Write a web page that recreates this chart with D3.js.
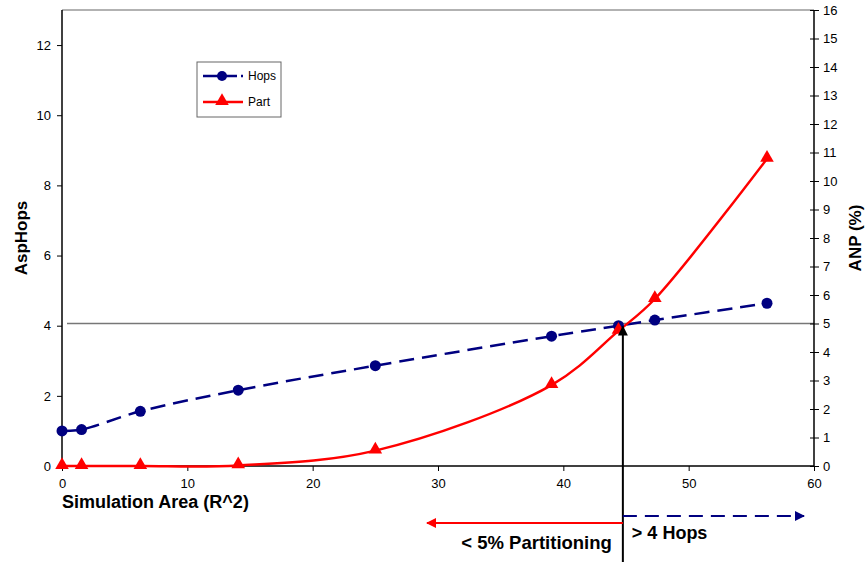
<!DOCTYPE html>
<html>
<head>
<meta charset="utf-8">
<script src="https://cdn.jsdelivr.net/npm/d3@7"></script>
<style>
body { margin: 0; background: #fff; }
text { font-family: "Liberation Sans", Arial, sans-serif; }
</style>
</head>
<body>
<div class="chart"></div>
<script>
// simulation area (R^2)
var area = [0, 1.56, 6.25, 14.06, 25, 39.06, 44.4, 47.3, 56.25];
// average shortest path hops (left axis)
var hops = [1.0, 1.04, 1.56, 2.16, 2.86, 3.70, 4.0, 4.16, 4.64];
// average network partitioning % (right axis)
var part = [0, 0, 0, 0.02, 0.54, 2.84, 4.74, 5.86, 10.78];
var xTicks = [0, 10, 20, 30, 40, 50, 60];
var leftTicks = [0, 2, 4, 6, 8, 10, 12];
var rightTicks = d3.range(0, 17);
var threshold = 5;      // % partitioning line
var crossArea = 44.75;  // where both limits meet

var W = 867, H = 562;
var margin = {top: 10, right: 53, bottom: 96, left: 62};
var width = W - margin.left - margin.right,
    height = H - margin.top - margin.bottom;

var svg = d3.select(".chart").append("svg")
    .attr("width", W)
    .attr("height", H);
var g = svg.append("g")
    .attr("transform", "translate(" + margin.left + "," + margin.top + ")");

var x = d3.scaleLinear().domain([0, 60]).range([0, width]);
var yL = d3.scaleLinear().domain([0, 13]).range([height, 0]);
var yR = d3.scaleLinear().domain([0, 16]).range([height, 0]);

// top frame
g.append("line")
    .attr("x1", 0).attr("x2", width).attr("y1", 0).attr("y2", 0)
    .attr("stroke", "#999").attr("stroke-width", 1.5);

// 5% line
g.append("line")
    .attr("x1", 5).attr("x2", width)
    .attr("y1", yR(threshold)).attr("y2", yR(threshold))
    .attr("stroke", "#777").attr("stroke-width", 1.5);

// axes
var xAxis = g.append("g")
    .attr("transform", "translate(0," + height + ")")
    .call(d3.axisBottom(x).tickValues(xTicks).tickSize(5).tickPadding(8));
var lAxis = g.append("g")
    .call(d3.axisLeft(yL).tickValues(leftTicks).tickSize(5).tickPadding(6));
var rAxis = g.append("g")
    .attr("transform", "translate(" + width + ",0)")
    .call(d3.axisRight(yR).tickValues(rightTicks).tickSize(5).tickPadding(4));
rAxis.selectAll(".tick line").attr("x1", -4);
[xAxis, lAxis, rAxis].forEach(function (a) {
    a.select(".domain").attr("stroke", "#000").attr("stroke-width", 1.5);
    a.selectAll(".tick line").attr("stroke", "#000");
    a.selectAll(".tick text")
        .style("font-family", "Liberation Sans, Arial, sans-serif")
        .style("font-size", "13px").attr("fill", "#000");
});
lAxis.select(".domain").attr("d", "M0," + height + "V0");
rAxis.select(".domain").attr("d", "M0," + height + "V0");
xAxis.select(".domain").attr("d", "M0,0H" + width);

var pts = area.map(function (a, i) { return {x: a, h: hops[i], p: part[i]}; });

// hops line
var hopLine = d3.line()
    .x(function (d) { return x(d.x); })
    .y(function (d) { return yL(d.h); })
    .curve(d3.curveCatmullRom.alpha(0.5));
g.append("path")
    .datum(pts)
    .attr("d", hopLine)
    .attr("fill", "none")
    .attr("stroke", "#000080")
    .attr("stroke-width", 2.5)
    .attr("stroke-dasharray", "15,8");

// part line
var partLine = d3.line()
    .x(function (d) { return x(d.x); })
    .y(function (d) { return yR(d.p); })
    .curve(d3.curveCatmullRom.alpha(0.5));
g.append("path")
    .datum(pts)
    .attr("d", partLine)
    .attr("fill", "none")
    .attr("stroke", "#ff0000")
    .attr("stroke-width", 2.5);

g.selectAll(".hop")
    .data(pts)
    .enter().append("circle")
    .attr("class", "hop")
    .attr("cx", function (d) { return x(d.x); })
    .attr("cy", function (d) { return yL(d.h); })
    .attr("r", 5.5)
    .attr("fill", "#000080");

var tri = d3.symbol().type(d3.symbolTriangle).size(80);
g.selectAll(".part")
    .data(pts)
    .enter().append("path")
    .attr("class", "part")
    .attr("d", tri)
    .attr("transform", function (d) { return "translate(" + x(d.x) + "," + (yR(d.p) - 1) + ")"; })
    .attr("fill", "#ff0000");

// legend
var leg = svg.append("g").attr("transform", "translate(197,62)");
leg.append("rect")
    .attr("width", 84).attr("height", 55)
    .attr("fill", "#fff").attr("stroke", "#666").attr("stroke-width", 1);
leg.append("line").attr("x1", 6).attr("x2", 46).attr("y1", 14).attr("y2", 14)
    .attr("stroke", "#000080").attr("stroke-width", 2.5).attr("stroke-dasharray", "15,4");
leg.append("circle").attr("cx", 25).attr("cy", 14).attr("r", 5).attr("fill", "#000080");
leg.append("text").attr("x", 51).attr("y", 18).text("Hops")
    .style("font-size", "12px");
leg.append("line").attr("x1", 6).attr("x2", 46).attr("y1", 40).attr("y2", 40)
    .attr("stroke", "#ff0000").attr("stroke-width", 2.5);
leg.append("path").attr("d", tri).attr("transform", "translate(25,39)").attr("fill", "#ff0000");
leg.append("text").attr("x", 51).attr("y", 44).text("Part")
    .style("font-size", "12px");

// axis titles
svg.append("text")
    .attr("transform", "translate(27,238) rotate(-90)")
    .attr("text-anchor", "middle")
    .style("font-size", "17px").style("font-weight", "bold")
    .text("AspHops");
svg.append("text")
    .attr("transform", "translate(861,238) rotate(-90)")
    .attr("text-anchor", "middle")
    .style("font-size", "17px").style("font-weight", "bold")
    .text("ANP (%)");
svg.append("text")
    .attr("x", 62).attr("y", 508)
    .style("font-size", "18px").style("font-weight", "bold")
    .text("Simulation Area (R^2)");

// annotation
var defs = svg.append("defs");
function marker(id, color) {
    defs.append("marker")
        .attr("id", id)
        .attr("viewBox", "0 0 10 10")
        .attr("refX", 9).attr("refY", 5)
        .attr("markerWidth", 5).attr("markerHeight", 5)
        .attr("markerUnits", "strokeWidth")
        .attr("orient", "auto")
        .append("path").attr("d", "M0,0L10,5L0,10Z").attr("fill", color);
}
marker("arK", "#000");
marker("arR", "#ff0000");
marker("arB", "#000080");

var cx = margin.left + x(crossArea);
svg.append("line")
    .attr("x1", cx).attr("x2", cx)
    .attr("y1", H).attr("y2", margin.top + yR(threshold) + 3)
    .attr("stroke", "#000").attr("stroke-width", 2)
    .attr("marker-end", "url(#arK)");
svg.append("line")
    .attr("x1", cx).attr("x2", 427)
    .attr("y1", 523).attr("y2", 523)
    .attr("stroke", "#ff0000").attr("stroke-width", 2)
    .attr("marker-end", "url(#arR)");
svg.append("line")
    .attr("x1", cx).attr("x2", 804)
    .attr("y1", 516).attr("y2", 516)
    .attr("stroke", "#000080").attr("stroke-width", 2)
    .attr("stroke-dasharray", "14,8")
    .attr("marker-end", "url(#arB)");
svg.append("text")
    .attr("x", cx - 11).attr("y", 549)
    .attr("text-anchor", "end")
    .style("font-size", "18.5px").style("font-weight", "bold")
    .text("< 5% Partitioning");
svg.append("text")
    .attr("x", cx + 9).attr("y", 539)
    .style("font-size", "18px").style("font-weight", "bold")
    .text("> 4 Hops");
</script>
</body>
</html>
